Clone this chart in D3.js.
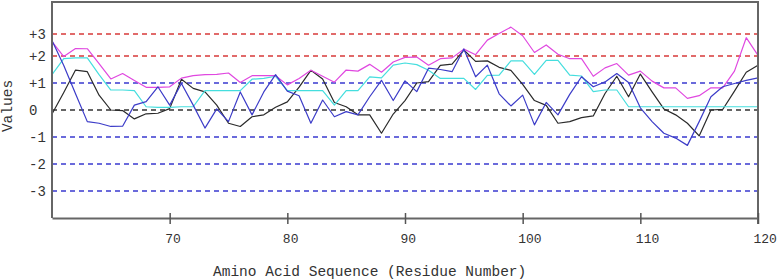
<!DOCTYPE html>
<html>
<head>
<meta charset="utf-8">
<script src="https://cdn.jsdelivr.net/npm/d3@7"></script>
<style>
  body { margin: 0; background: #fff; }
  svg { display: block; }
  text { font-family: "Liberation Mono", "DejaVu Sans Mono", monospace; fill: #333; }
</style>
</head>
<body>
<div id="chart"></div>
<script>
// residues 60..120, one value per residue
const firstResidue = 60;
const lastResidue = 120;

const magentaVals = [2.65, 1.98, 2.34, 2.33, 1.72, 1.15, 1.35, 1.09, 0.84, 0.84,
  0.86, 1.18, 1.27, 1.31, 1.32, 1.37, 1.02, 1.27, 1.27, 1.27,
  0.93, 1.17, 1.47, 1.25, 1.03, 1.48, 1.44, 1.69, 1.40, 1.78,
  1.95, 1.96, 1.66, 1.90, 1.93, 2.31, 2.06, 2.72, 3.02, 3.31,
  2.92, 2.16, 2.50, 2.08, 1.90, 1.90, 1.25, 1.56, 1.72, 1.29,
  1.44, 1.07, 0.82, 0.82, 0.43, 0.53, 0.82, 0.82, 1.44, 2.83,
  2.03];

const cyanVals = [1.31, 1.90, 1.93, 1.93, 1.31, 0.74, 0.74, 0.72, 0.12, 0.10,
  0.10, 0.12, 0.12, 0.72, 0.72, 0.72, 0.72, 1.14, 1.17, 1.25,
  0.72, 0.72, 0.72, 0.72, 0.18, 0.72, 0.72, 1.23, 1.19, 1.66,
  1.74, 1.68, 1.47, 1.17, 1.17, 1.17, 0.76, 1.28, 1.29, 1.82,
  1.82, 1.32, 1.84, 1.84, 1.29, 1.26, 0.68, 0.74, 0.74, 0.12,
  0.12, 0.12, 0.12, 0.12, 0.12, 0.12, 0.12, 0.12, 0.12, 0.12,
  0.12];

const blackVals = [-0.15, 0.65, 1.48, 1.42, 0.55, 0.00, -0.02, -0.33, -0.14, -0.12,
  0.05, 1.14, 0.80, 0.67, 0.18, -0.49, -0.61, -0.25, -0.18, 0.10,
  0.30, 0.85, 1.47, 1.15, 0.28, 0.12, -0.18, -0.18, -0.86, -0.15,
  0.35, 1.00, 1.05, 1.65, 1.70, 2.27, 1.80, 1.82, 1.58, 1.47,
  0.95, 0.35, 0.17, -0.49, -0.43, -0.28, -0.22, 0.61, 1.25, 0.49,
  1.33, 0.67, 0.04, -0.18, -0.49, -0.96, 0.00, 0.02, 0.70, 1.40,
  1.66];

const blueVals = [2.70, 1.65, 0.60, -0.43, -0.49, -0.61, -0.60, 0.18, 0.31, 0.86,
  0.18, 0.98, 0.18, -0.67, 0.04, -0.43, 0.67, -0.18, 0.67, 1.31,
  0.70, 0.53, -0.49, 0.37, -0.25, -0.06, -0.18, 0.49, 1.10, 0.35,
  1.08, 0.68, 1.55, 1.50, 1.42, 2.32, 1.23, 1.66, 0.60, 0.15,
  0.55, -0.55, 0.28, -0.18, 0.58, 1.23, 0.86, 1.04, 1.35, 1.02,
  0.08, -0.43, -0.86, -1.04, -1.31, -0.43, 0.49, 0.86, 0.98, 1.10,
  1.19];

const xTicks = [70, 80, 90, 100, 110, 120];
const yLevels = [3, 2, 1, 0, -1, -2, -3];
const yLabels = ['+3', '+2', '+1', '0', '-1', '-2', '-3'];

const width = 778, height = 280;
const svg = d3.select('#chart').append('svg')
  .attr('width', width).attr('height', height);

const x = d3.scaleLinear().domain([firstResidue, lastResidue]).range([52, 758]);
// the source plot is squeezed above +2, so the scale has a break there
const y = d3.scaleLinear().domain([-4, 2, 4.45]).range([218, 56, 2]);

const residues = d3.range(firstResidue, lastResidue + 1);

// threshold lines
const lineColor = v => v >= 2 ? '#d83a3a' : (v === 0 ? '#333' : '#3a3ad0');
svg.append('g').selectAll('line').data(yLevels).enter().append('line')
  .attr('x1', x(firstResidue)).attr('x2', x(lastResidue))
  .attr('y1', d => y(d)).attr('y2', d => y(d))
  .attr('stroke', lineColor).attr('stroke-width', 1.4)
  .attr('stroke-dasharray', '5,4');

// y labels
svg.append('g').selectAll('text').data(yLevels).enter().append('text')
  .attr('x', 29).attr('y', d => y(d)).attr('dy', '0.36em')
  .style('font-size', '14px')
  .text((d, i) => yLabels[i]);

// series
const series = [
  { vals: blackVals, color: '#2a2a2a' },
  { vals: cyanVals, color: '#45dede' },
  { vals: magentaVals, color: '#e048e0' },
  { vals: blueVals, color: '#3c3cc8' }
];
const line = d3.line().x((d, i) => x(residues[i])).y(d => y(d));
svg.append('g').selectAll('path').data(series).enter().append('path')
  .attr('d', d => line(d.vals))
  .attr('fill', 'none').attr('stroke', d => d.color)
  .attr('stroke-width', 1.2).attr('stroke-linejoin', 'round');

// frame
const frame = svg.append('g').attr('stroke', '#666').attr('stroke-width', 2).attr('fill', 'none');
frame.append('path')
  .attr('d', `M${x(firstResidue)},${y(-4)}V${y(4.45)}H${x(lastResidue)}V${y(-4) + 6}`);

// x axis
const xAxis = svg.append('g').attr('transform', `translate(0,${y(-4)})`)
  .call(d3.axisBottom(x).tickValues(xTicks).tickSizeOuter(0));
xAxis.select('.domain').attr('stroke', '#666').attr('stroke-width', 2);
xAxis.selectAll('.tick line').attr('y1', -5).attr('y2', 6)
  .attr('stroke', '#555').attr('stroke-width', 1.5);
xAxis.selectAll('.tick text')
  .attr('y', 25).attr('dy', 0).attr('x', -5)
  .attr('text-anchor', 'start')
  .style('font-size', '13px').style('font-family', '"Liberation Mono", monospace')
  .attr('fill', '#333');

// axis titles
svg.append('text').attr('x', 213).attr('y', 276)
  .style('font-size', '14.5px')
  .text('Amino Acid Sequence (Residue Number)');

svg.append('text')
  .attr('transform', 'translate(12,106) rotate(-90)')
  .attr('text-anchor', 'middle')
  .style('font-size', '14.5px')
  .text('Values');
</script>
</body>
</html>
